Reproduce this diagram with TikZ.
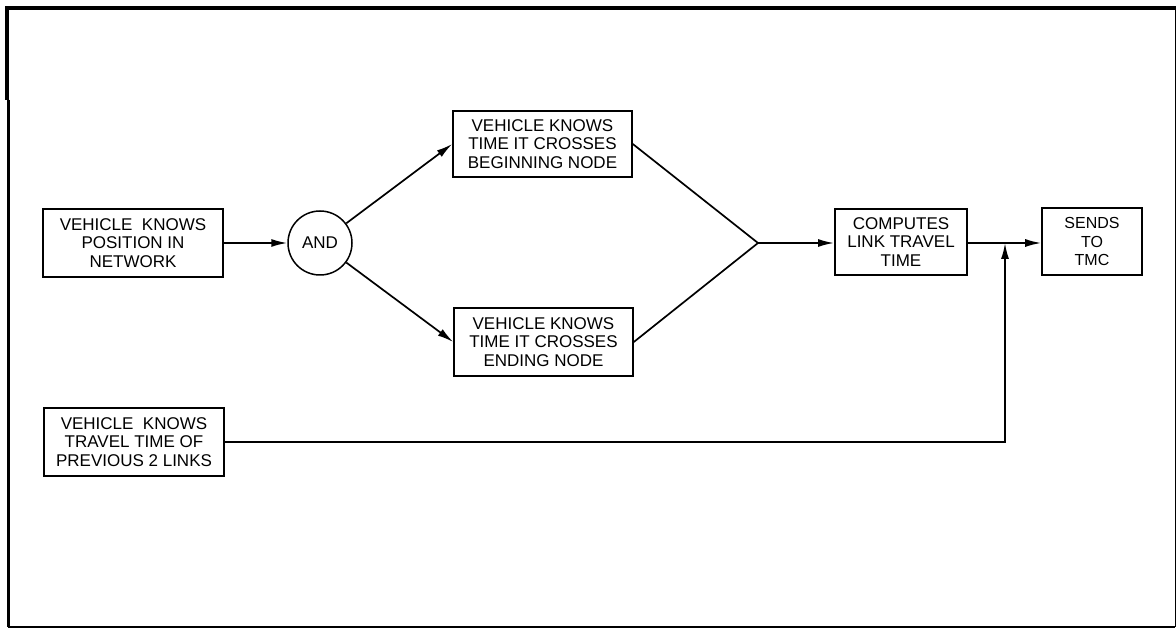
\documentclass[tikz,border=0pt]{standalone}
\usepackage{fontspec}
\setmainfont{Liberation Sans}
\usetikzlibrary{arrows.meta}
\begin{document}
\begin{tikzpicture}[x=1pt,y=-1pt,
  every node/.style={font=\fontsize{17}{18.5}\selectfont, align=center, inner sep=0pt},
  box/.style={draw, line width=1.6pt, rectangle},
  heavybox/.style={draw, line width=2pt, rectangle},
  conn/.style={line width=1.7pt},
  arr/.style={line width=1.7pt, -{Latex[length=16pt,width=8pt]}}]
\useasboundingbox (0,0) rectangle (1176,628);
% frame
\draw[line width=4pt] (5,8) -- (1176,8);
\draw[line width=4pt] (7,8) -- (7,100);
\draw[line width=2.5pt] (8.5,100) -- (8.5,627);
\draw[line width=1.3pt] (8,627) -- (1175.3,627);
\draw[line width=1.3pt] (1175.3,10) -- (1175.3,627);
% nodes
\node[heavybox, minimum width=180pt, minimum height=68pt] (pos) at (133,243)
  {VEHICLE\ \ KNOWS\\POSITION IN\\NETWORK};
\node[draw, circle, line width=1.5pt, minimum size=64pt] (and) at (320,243) {AND};
\node[box, minimum width=179pt, minimum height=66pt] (beg) at (542.5,144)
  {VEHICLE KNOWS\\TIME IT CROSSES\\BEGINNING NODE};
\node[box, minimum width=179pt, minimum height=68pt] (end) at (543.5,342)
  {VEHICLE KNOWS\\TIME IT CROSSES\\ENDING NODE};
\node[heavybox, minimum width=132pt, minimum height=66pt] (comp) at (901,242)
  {COMPUTES\\LINK TRAVEL\\TIME};
\node[box, minimum width=100pt, minimum height=67pt, font=\fontsize{16}{18.5}\selectfont] (sends) at (1092,241.5)
  {SENDS\\TO\\TMC};
\node[heavybox, minimum width=180pt, minimum height=68pt] (prev) at (134,442)
  {VEHICLE\ \ KNOWS\\TRAVEL\ TIME\ OF\\PREVIOUS 2 LINKS};
\coordinate (J) at (758,243);
\coordinate (M) at (1005,243);
% connectors
\draw[arr] (pos.east) -- (and.west);
\draw[arr] (and) -- (beg.west);
\draw[arr] (and) -- (end.west);
\draw[conn] (beg.east) -- (J);
\draw[conn] (end.east) -- (J);
\draw[arr] (J) -- (J -| comp.west);
\draw[arr] (comp.east |- J) -- (J -| sends.west);
\draw[arr] (prev.east) -| (M);
\end{tikzpicture}
\end{document}
